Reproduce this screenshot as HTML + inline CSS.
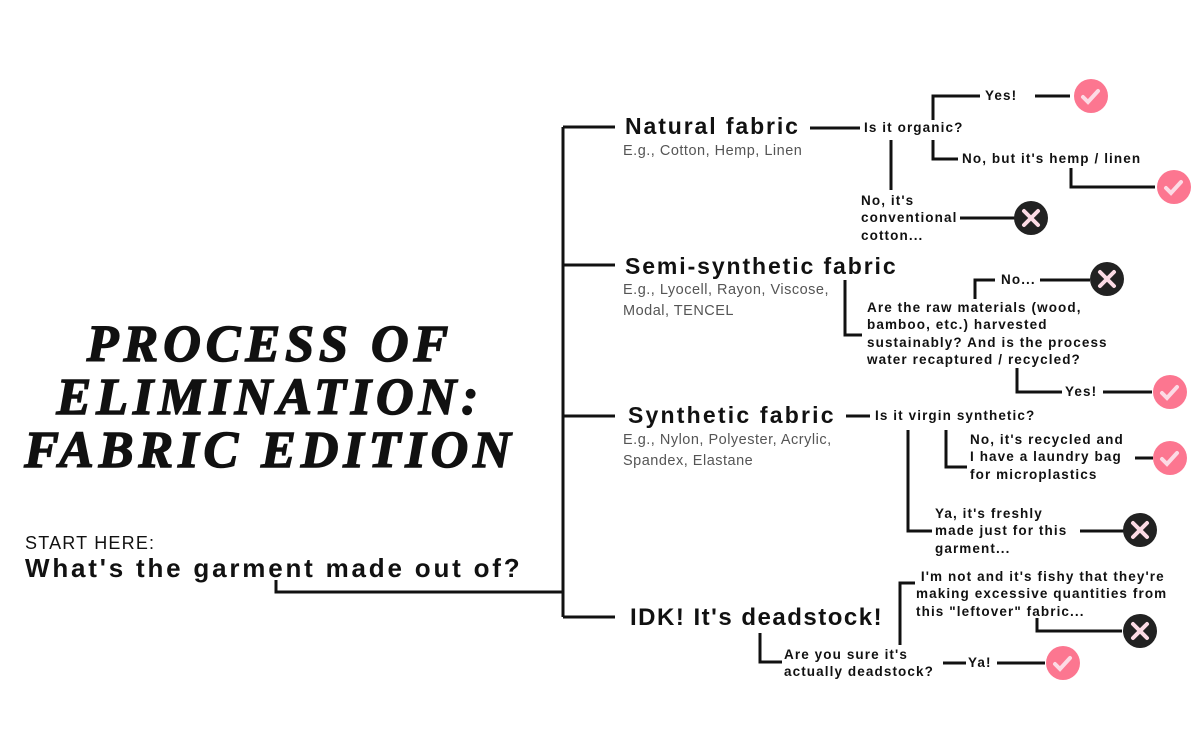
<!DOCTYPE html>
<html><head><meta charset="utf-8"><style>
html,body{margin:0;padding:0;background:#fff;}
body{width:1200px;height:750px;position:relative;overflow:hidden;font-family:"Liberation Sans",sans-serif;color:#111;}
.t{position:absolute;white-space:nowrap;}
.b{font-weight:bold;font-size:13.5px;line-height:17.3px;letter-spacing:1.1px;}
.h{font-weight:bold;font-size:23px;letter-spacing:1.9px;}
.g{color:#555;font-size:14.5px;line-height:21px;letter-spacing:0.5px;}
.title{position:absolute;left:0;width:540px;text-align:center;font-family:"Liberation Serif",serif;font-weight:bold;font-style:italic;font-size:52px;letter-spacing:5px;line-height:53px;top:318px;-webkit-text-stroke:1.5px #111;}
</style></head><body>
<svg width="1200" height="750" style="position:absolute;left:0;top:0" fill="none" stroke="#111" stroke-width="3">
<path d="M563 127V617M563 127H615M563 265H615M563 416H615M563 617H615M276 580V592H563"/>
<path d="M810 128H860M933 120V96H980M1035 96H1070M933 140V159H958M1071 168V187H1155M891 140V190M960 218H1016"/>
<path d="M845 280V335H862M975 299V280H995M1040 280H1090M1017 368V392H1062M1103 392H1152"/>
<path d="M846 416H870M946 430V467H967M1135 458H1153M908 430V531H932M1080 531H1124"/>
<path d="M760 633V662H782M900 645V583H915M1037 618V631H1122M943 663H966M997 663H1045"/>
<g stroke="none" fill="#fc7690">
<circle cx="1091" cy="96" r="17"/><circle cx="1174" cy="187" r="17"/><circle cx="1170" cy="392" r="17"/><circle cx="1170" cy="458" r="17"/><circle cx="1063" cy="663" r="17"/></g>
<g stroke="none" fill="#222">
<circle cx="1031" cy="218" r="17"/><circle cx="1107" cy="279" r="17"/><circle cx="1140" cy="530" r="17"/><circle cx="1140" cy="631" r="17"/></g>
<g stroke="#fcdbe5" stroke-width="4" stroke-linecap="round">
<path d="M1083 97l5 5 10-11M1166 188l5 5 10-11M1162 393l5 5 10-11M1162 459l5 5 10-11M1055 664l5 5 10-11"/>
<path d="M1024 211l14 14M1038 211l-14 14M1100 272l14 14M1114 272l-14 14M1133 523l14 14M1147 523l-14 14M1133 624l14 14M1147 624l-14 14"/>
</g>
</svg>
<div class="title">PROCESS OF<br>ELIMINATION:<br>FABRIC EDITION</div>
<div class="t" style="left:25px;top:533px;font-size:18px;letter-spacing:1.2px;">START HERE:</div>
<div class="t" style="left:25px;top:553px;font-size:26px;font-weight:bold;letter-spacing:2.8px;">What's the garment made out of?</div>

<div class="t h" style="left:625px;top:113px;">Natural fabric</div>
<div class="t g" style="left:623px;top:141px;">E.g., Cotton, Hemp, Linen</div>
<div class="t b" style="left:864px;top:119px;">Is it organic?</div>
<div class="t b" style="left:985px;top:87px;">Yes!</div>
<div class="t b" style="left:962px;top:150px;">No, but it's hemp / linen</div>
<div class="t b" style="left:861px;top:192px;">No, it's<br>conventional<br>cotton...</div>

<div class="t h" style="left:625px;top:253px;">Semi-synthetic fabric</div>
<div class="t g" style="left:623px;top:280px;">E.g., Lyocell, Rayon, Viscose,<br>Modal, TENCEL</div>
<div class="t b" style="left:1001px;top:271px;">No...</div>
<div class="t b" style="left:867px;top:299px;">Are the raw materials (wood,<br>bamboo, etc.) harvested<br>sustainably? And is the process<br>water recaptured / recycled?</div>
<div class="t b" style="left:1065px;top:383px;">Yes!</div>

<div class="t h" style="left:628px;top:402px;letter-spacing:2.2px;">Synthetic fabric</div>
<div class="t g" style="left:623px;top:430px;">E.g., Nylon, Polyester, Acrylic,<br>Spandex, Elastane</div>
<div class="t b" style="left:875px;top:407px;">Is it virgin synthetic?</div>
<div class="t b" style="left:970px;top:431px;">No, it's recycled and<br>I have a laundry bag<br>for microplastics</div>
<div class="t b" style="left:935px;top:505px;">Ya, it's freshly<br>made just for this<br>garment...</div>

<div class="t h" style="left:630px;top:604px;font-size:24px;letter-spacing:1.5px;">IDK! It's deadstock!</div>
<div class="t b" style="left:784px;top:646px;">Are you sure it's<br>actually deadstock?</div>
<div class="t b" style="left:968px;top:654px;">Ya!</div>
<div class="t b" style="left:916px;top:568px;">&nbsp;I'm not and it's fishy that they're<br>making excessive quantities from<br>this "leftover" fabric...</div>
</body></html>
